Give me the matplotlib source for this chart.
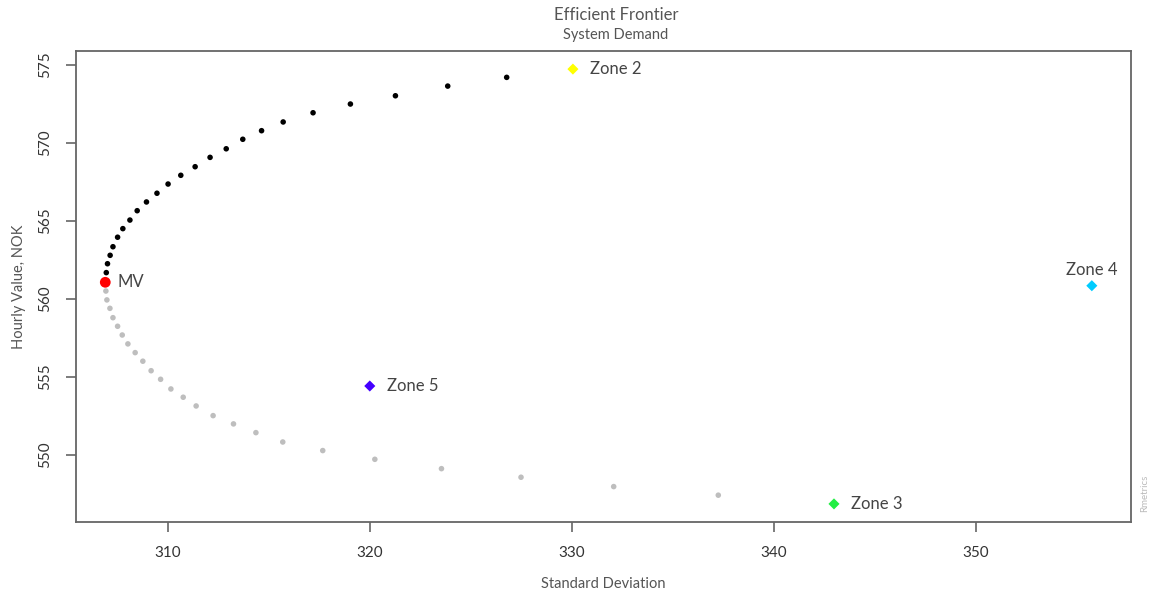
import matplotlib
matplotlib.use("Agg")
import matplotlib.pyplot as plt

plt.rcParams['font.family'] = ['Lato', 'DejaVu Sans']

# Efficient part of the frontier (black), from top-right down to MV
eff_sd = [326.78, 323.86, 321.27, 319.04, 317.19, 315.71, 314.64, 313.71,
          312.89, 312.09, 311.35, 310.64, 310.01, 309.46, 308.94, 308.48,
          308.12, 307.77, 307.51, 307.28, 307.14, 307.01, 306.95]
eff_val = [574.21, 573.65, 573.03, 572.50, 571.94, 571.35, 570.79, 570.24,
           569.63, 569.08, 568.48, 567.93, 567.37, 566.78, 566.22, 565.66,
           565.06, 564.51, 563.96, 563.35, 562.80, 562.26, 561.69]

# Minimum variance portfolio
mv_sd = [306.90]
mv_val = [561.07]

# Inefficient part of the frontier (grey)
ineff_sd = [306.93, 306.98, 307.13, 307.28, 307.51, 307.74, 308.02, 308.38,
            308.76, 309.17, 309.64, 310.15, 310.76, 311.40, 312.24, 313.25,
            314.36, 315.69, 317.67, 320.25, 323.55, 327.49, 332.08, 337.26]
ineff_val = [560.51, 559.94, 559.40, 558.80, 558.25, 557.69, 557.12, 556.56,
             556.01, 555.40, 554.85, 554.23, 553.70, 553.14, 552.52, 551.99,
             551.43, 550.83, 550.28, 549.72, 549.12, 548.57, 547.97, 547.42]

# Single assets
zones = ["Zone 2", "Zone 3", "Zone 4", "Zone 5"]
zone_sd = [330.06, 342.99, 355.76, 320.00]
zone_val = [574.74, 546.86, 560.85, 554.42]
zone_colors = ["#FFFF00", "#22EE44", "#00CCFF", "#4400FF"]

xticks = [310, 320, 330, 340, 350]
yticks = [550, 555, 560, 565, 570, 575]

W, H = 1150, 596
fig = plt.figure(figsize=(W / 100, H / 100), dpi=100)
ax = fig.add_axes([76 / W, 1 - 522 / H, (1131 - 76) / W, (522 - 51) / H])

ax.scatter(ineff_sd, ineff_val, s=16, color="#BEBEBE", edgecolors="none", zorder=2)
ax.scatter(eff_sd, eff_val, s=16, color="black", edgecolors="none", zorder=3)
ax.scatter(mv_sd, mv_val, s=60, color="red", edgecolors="none", zorder=4)
ax.scatter(zone_sd, zone_val, s=32, marker="D", c=zone_colors, edgecolors="none", zorder=4)

txt_col = "#444444"
ax.annotate("MV", (mv_sd[0], mv_val[0]), xytext=(12, 0), textcoords="offset pixels",
            ha="left", va="center", fontsize=12, color=txt_col)
for name, x, y in zip(zones, zone_sd, zone_val):
    if name == "Zone 4":
        ax.annotate(name, (x, y), xytext=(0, 16), textcoords="offset pixels",
                    ha="center", va="center", fontsize=12, color=txt_col)
    else:
        ax.annotate(name, (x, y), xytext=(17, 0), textcoords="offset pixels",
                    ha="left", va="center", fontsize=12, color=txt_col)

ax.set_xlim(305.45, 357.7)
ax.set_ylim(545.7, 575.9)
ax.set_xticks(xticks)
ax.set_yticks(yticks)
ax.set_xticklabels([str(t) for t in xticks])
ax.set_yticklabels([str(t) for t in yticks], rotation=90, va="center")

spine_col = "#666666"
for sp in ax.spines.values():
    sp.set_color(spine_col)
    sp.set_linewidth(1.3)
ax.tick_params(axis="both", direction="out", length=7, width=1.2, color=spine_col,
               labelcolor="#333333", labelsize=11, pad=10)

ax.set_xlabel("Standard Deviation", fontsize=10.5, color="#555555")
ax.xaxis.set_label_coords(0.5, (522 - 577) / (522 - 51))
ax.set_ylabel("Hourly Value, NOK", fontsize=10.5, color="#555555")
ax.yaxis.set_label_coords((26 - 76) / (1131 - 76), 0.5)

fig.text(616 / W, 1 - 15 / H, "Efficient Frontier", ha="center", va="center",
         fontsize=12, color="#555555")
fig.text(616 / W, 1 - 35 / H, "System Demand", ha="center", va="center",
         fontsize=10.5, color="#555555")
fig.text(1145 / W, 1 - 512 / H, "Rmetrics", ha="center", va="bottom", rotation=90,
         fontsize=7, color="#BBBBBB")

fig.savefig("out.png", dpi=100)
